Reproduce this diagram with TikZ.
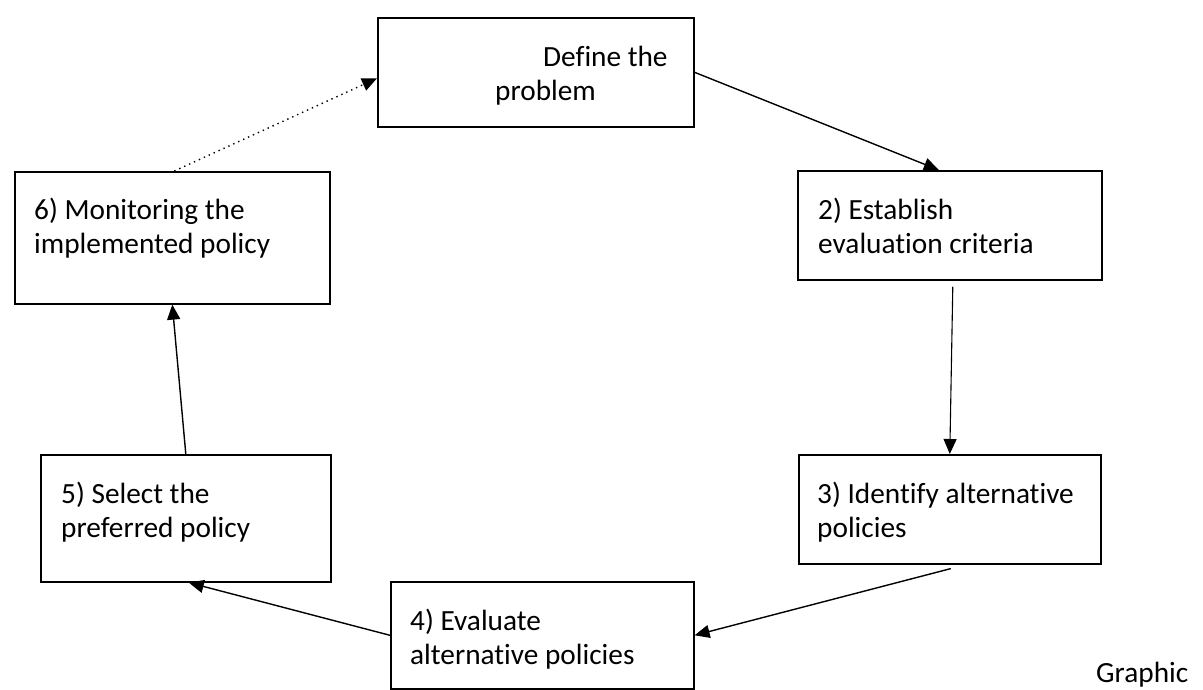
\documentclass[tikz,border=0pt]{standalone}
\usepackage{fontspec}
\setmainfont{Carlito}[Ligatures={NoCommon}]
\usetikzlibrary{arrows.meta}
\begin{document}
\begin{tikzpicture}[x=1pt,y=-1pt,
  box/.style={draw=black, line width=1.6pt, rectangle, anchor=north west, inner sep=0pt},
  lbl/.style={anchor=base west, inner sep=0pt, align=left, font=\fontsize{29.3pt}{34pt}\selectfont},
  conn/.style={line width=1.4pt, -{Triangle[length=15pt,width=13pt]}},
  dotconn/.style={line width=1.4pt, dash pattern=on 1.4pt off 4pt, -{Triangle[length=15pt,width=13pt]}}]
\useasboundingbox (0,0) rectangle (1203,689);
\clip (0,0) rectangle (1203,689);
% boxes
\node[box, minimum width=316pt, minimum height=109pt] (b1) at (377,17) {};
\node[box, minimum width=304pt, minimum height=109pt] (b2) at (797,170) {};
\node[box, minimum width=302pt, minimum height=109pt] (b3) at (798,454) {};
\node[box, minimum width=303pt, minimum height=107pt] (b4) at (390,581) {};
\node[box, minimum width=290pt, minimum height=127pt] (b5) at (40,454) {};
\node[box, minimum width=315pt, minimum height=132pt] (b6) at (14,171) {};
% texts (anchor at baseline of last line)
\node[lbl] (t1) at (495,100) {\hspace*{48pt}Define the\\problem};
\node[lbl] (t2) at (818,253) {2) Establish\\evaluation criteria};
\node[lbl] (t3) at (817,537) {3) Identify alternative\\policies};
\node[lbl] (t4) at (410,664) {4) Evaluate\\alternative policies};
\node[lbl] (t5) at (61,537) {5) Select the\\preferred policy};
\node[lbl] (t6) at (34,253) {6) Monitoring the\\implemented policy};
\node[lbl] (tg) at (1096,682) {Graphic};
% connectors
\draw[conn] (b1.east) -- ([xshift=-11pt]b2.north);
\draw[conn, line width=1.1pt] ([xshift=3pt,yshift=-6pt]b2.south) -- (b3.north);
\draw[conn] ([xshift=1pt,yshift=-4pt]b3.south) -- (b4.east);
\draw[conn] (b4.west) -- ([xshift=3pt]b5.south);
\draw[conn] (b5.north) -- (b6.south);
\draw[dotconn] ([xshift=2pt]b6.north) -- ([yshift=-6pt]b1.west);
\end{tikzpicture}
\end{document}
